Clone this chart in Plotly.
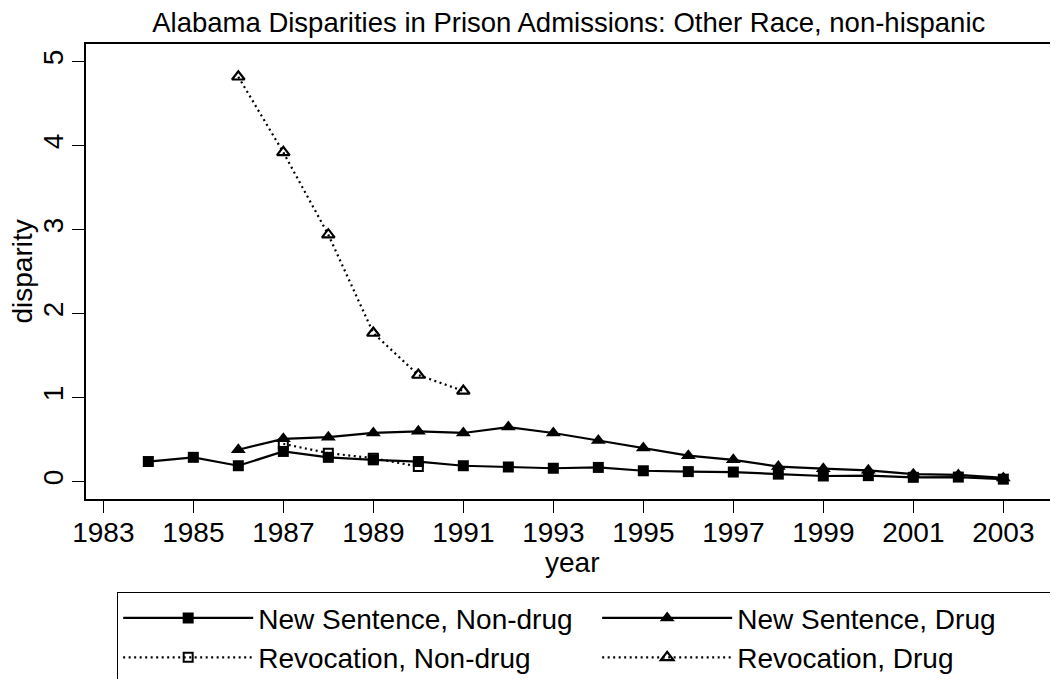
import plotly.graph_objects as go

years_ns_nondrug = list(range(1984, 2004))
ns_nondrug = [0.24, 0.29, 0.19, 0.36, 0.29, 0.26, 0.24, 0.19, 0.175, 0.16,
              0.17, 0.13, 0.12, 0.115, 0.09, 0.068, 0.072, 0.052, 0.055, 0.03]

years_ns_drug = list(range(1986, 2004))
ns_drug = [0.38, 0.51, 0.53, 0.58, 0.60, 0.58, 0.65, 0.58, 0.49, 0.40,
           0.31, 0.26, 0.18, 0.155, 0.135, 0.09, 0.08, 0.045]

years_rev_nondrug = [1987, 1988, 1989, 1990]
rev_nondrug = [0.45, 0.34, 0.28, 0.18]

years_rev_drug = [1986, 1987, 1988, 1989, 1990, 1991]
rev_drug = [4.82, 3.92, 2.94, 1.77, 1.27, 1.08]

x_ticks = list(range(1983, 2004, 2))
y_ticks = [0, 1, 2, 3, 4, 5]

FONT = "Liberation Sans, Arial, Helvetica, sans-serif"
DOT = "2px,3.5px"

fig = go.Figure()

fig.add_trace(go.Scatter(
    x=years_rev_nondrug, y=rev_nondrug, name="Revocation, Non-drug",
    mode="lines+markers", legendrank=3,
    line=dict(color="black", width=2.2, dash=DOT),
    marker=dict(symbol="square-open", size=9, color="black", line=dict(width=2, color="black")),
))
fig.add_trace(go.Scatter(
    x=years_rev_drug, y=rev_drug, name="Revocation, Drug",
    mode="lines+markers", legendrank=4,
    line=dict(color="black", width=2.2, dash=DOT),
    marker=dict(symbol="triangle-up-open", size=11, color="black", line=dict(width=2.2, color="black")),
))
fig.add_trace(go.Scatter(
    x=years_ns_nondrug, y=ns_nondrug, name="New Sentence, Non-drug",
    mode="lines+markers", legendrank=1,
    line=dict(color="black", width=2.2),
    marker=dict(symbol="square", size=11, color="black"),
))
fig.add_trace(go.Scatter(
    x=years_ns_drug, y=ns_drug, name="New Sentence, Drug",
    mode="lines+markers", legendrank=2,
    line=dict(color="black", width=2.2),
    marker=dict(symbol="triangle-up", size=13, color="black"),
))

fig.update_layout(
    width=1058, height=679,
    margin=dict(l=78, r=8, t=36, b=188, autoexpand=False),
    paper_bgcolor="white", plot_bgcolor="white",
    font=dict(family=FONT, size=28, color="black"),
    title=dict(text="Alabama Disparities in Prison Admissions: Other Race, non-hispanic",
               x=0.530, xanchor="center", y=0.979, yanchor="middle",
               font=dict(size=27.5, color="black")),
    xaxis=dict(range=[1982.615, 2004.215], tickvals=x_ticks, ticktext=[str(v) for v in x_ticks],
               ticks="outside", ticklen=12, tickwidth=1.3, tickcolor="black",
               showline=True, linecolor="black", linewidth=1.5, mirror=True,
               showgrid=False, zeroline=False,
               tickfont=dict(size=28), ticklabelstandoff=-4),
    yaxis=dict(range=[-0.206, 5.21], tickvals=y_ticks, ticktext=[str(v) for v in y_ticks],
               ticks="outside", ticklen=12, tickwidth=1.3, tickcolor="black",
               showline=True, linecolor="black", linewidth=1.5, mirror=True,
               showgrid=False, zeroline=False, tickangle=-90,
               tickfont=dict(size=28), ticklabelstandoff=-2),
    legend=dict(orientation="h", xref="container", x=0.103, xanchor="left",
                yref="paper", y=-0.2044, yanchor="top",
                bordercolor="black", borderwidth=1.2, bgcolor="white",
                entrywidth=334, entrywidthmode="pixels", itemwidth=130,
                font=dict(size=28), traceorder="normal"),
    showlegend=True,
    annotations=[
        dict(text="year", xref="paper", yref="paper", x=0.5, y=-0.140,
             xanchor="center", yanchor="middle", showarrow=False, font=dict(size=28)),
        dict(text="disparity", xref="paper", yref="paper", x=-0.0658, y=0.5,
             xanchor="center", yanchor="middle", textangle=-90, showarrow=False,
             font=dict(size=28)),
    ],
)

fig.write_html("out.html")
